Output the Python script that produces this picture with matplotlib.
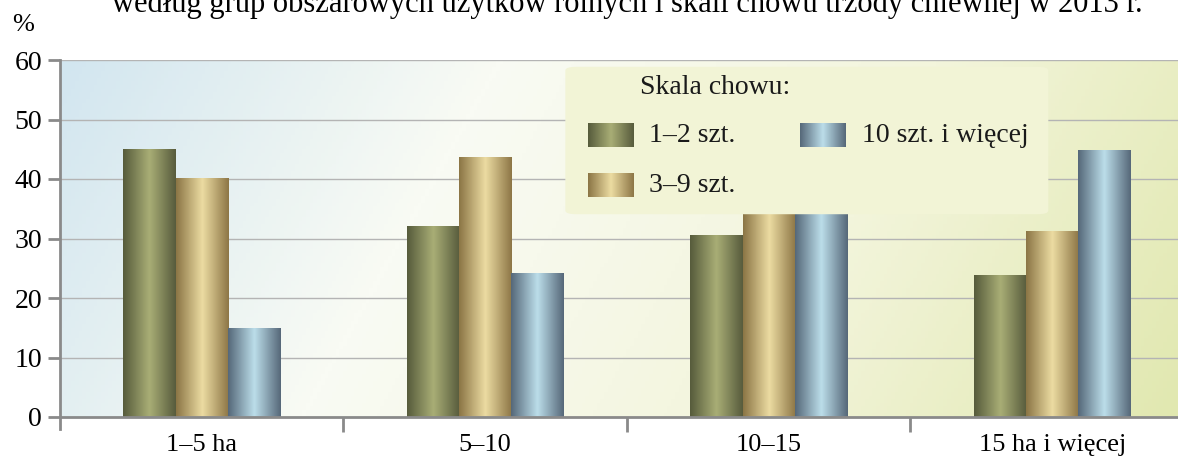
import numpy as np
import matplotlib
matplotlib.use("Agg")
import matplotlib.pyplot as plt
from matplotlib.colors import LinearSegmentedColormap
from matplotlib.patches import FancyBboxPatch

# values (10-15 group partly hidden by the legend)
groups = ["1–5 ha", "5–10", "10–15", "15 ha i więcej"]
szt_1_2 = [45.0, 32.1, 30.6, 23.9]
szt_3_9 = [40.2, 43.7, 35.2, 31.3]
szt_10 = [15.0, 24.2, 34.2, 44.9]
series_names = ["1–2 szt.", "3–9 szt.", "10 szt. i więcej"]
yticks = [0, 10, 20, 30, 40, 50, 60]
title = "według grup obszarowych użytków rolnych i skali chowu trzody chlewnej w 2013 r."

plt.rcParams['font.family'] = ['Liberation Serif', 'DejaVu Serif']

# dark - light - dark horizontal gradients for each series
cmaps = [
    LinearSegmentedColormap.from_list("g", ["#575c3c", "#a9ae76", "#585c3d"]),
    LinearSegmentedColormap.from_list("y", ["#8c7646", "#ecdca2", "#8e7747"]),
    LinearSegmentedColormap.from_list("b", ["#56697a", "#bcdeea", "#57697a"]),
]
grad = np.linspace(0, 1, 64).reshape(1, -1)

fig = plt.figure(figsize=(11.78, 4.63), dpi=100)
ax = fig.add_axes([60/1178, 1 - 417/463, 1118/1178, 357/463])

# background gradient: blue top-left, white-ish middle, yellow-green right
bg = LinearSegmentedColormap.from_list("bg", ["#d2e6f0", "#f9fbf4", "#f3f5dc", "#e1e8b0"])
xx, yy = np.meshgrid(np.linspace(0, 1, 300), np.linspace(0, 1, 100))
tt = 0.85 * xx + 0.15 * (1 - yy)
ax.imshow(tt, cmap=bg, extent=[0, 1, 0, 1], transform=ax.transAxes,
          origin="lower", aspect="auto", zorder=0)

x = np.arange(len(groups))
w = 0.185
for k, vals in enumerate([szt_1_2, szt_3_9, szt_10]):
    bars = ax.bar(x + (k - 1) * w, vals, width=w, color="none", edgecolor="none", zorder=3)
    for b in bars:
        x0, y0 = b.get_x(), b.get_y()
        im = ax.imshow(grad, cmap=cmaps[k], aspect="auto",
                       extent=[x0, x0 + b.get_width(), y0, y0 + b.get_height()], zorder=3)
        im.set_clip_path(b)

for v in yticks[1:]:
    ax.axhline(v, color="#b4b4b4", lw=1, zorder=1)

for s in ["top", "right"]:
    ax.spines[s].set_visible(False)
for s in ["left", "bottom"]:
    ax.spines[s].set_color("#8a8a8a")
    ax.spines[s].set_linewidth(2)
    ax.spines[s].set_zorder(4)

ax.set_yticks(yticks)
ax.set_yticklabels([str(v) for v in yticks], fontsize=20)
ax.tick_params(axis="y", length=9, width=2, color="#8a8a8a", pad=4)
ax.set_xticks(x)
ax.set_xticklabels(groups, fontsize=19)
ax.tick_params(axis="x", which="major", length=0, pad=12)
ax.set_xticks(x[:-1] + 0.5, minor=True)
ax.tick_params(axis="x", which="minor", length=11, width=2, color="#8a8a8a")
# left spine sticks a bit below the baseline
ax.plot([0, 0], [0, -0.035], transform=ax.transAxes, color="#8a8a8a", lw=2, clip_on=False, zorder=4)

# legend box
box = FancyBboxPatch((0.452, 0.568), 0.432, 0.413, boxstyle="round,pad=0,rounding_size=0.01",
                     transform=ax.transAxes, facecolor="#f2f4d6", edgecolor="none", zorder=8)
ax.add_patch(box)
ax.text(0.519, 0.924, "Skala chowu:", transform=ax.transAxes, fontsize=20,
        va="center", ha="left", color="#1a1a1a", zorder=9)
slots = [(0.472, 0.756), (0.472, 0.616), (0.662, 0.756)]
for k, (lx, ly) in enumerate(slots):
    ax.imshow(grad, cmap=cmaps[k], aspect="auto", extent=[lx, lx + 0.041, ly, ly + 0.066],
              transform=ax.transAxes, zorder=9)
    ax.text(lx + 0.055, ly + 0.033, series_names[k], transform=ax.transAxes, fontsize=20,
            va="center", ha="left", color="#1a1a1a", zorder=9)
ax.set_xlim(-0.5, (1178 - 200) / 284)
ax.set_ylim(0, 60)

fig.text(12/1178, 1 - 25/463, "%", fontsize=19, va="center", ha="left")
fig.text(627/1178, 1 - 12/463, title, fontsize=22, va="baseline", ha="center")

fig.savefig("out.png", dpi=100)
